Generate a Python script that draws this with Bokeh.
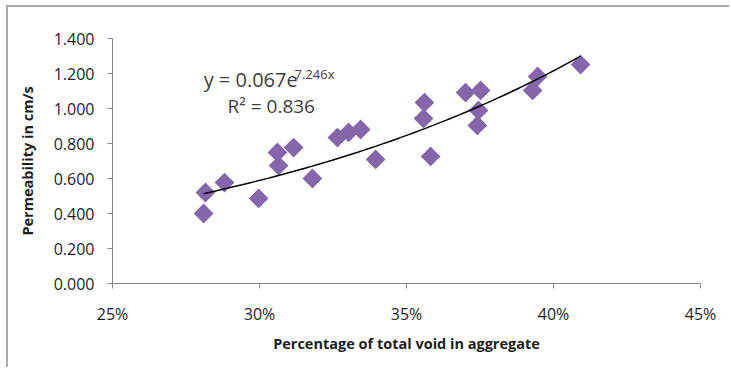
import numpy as np
from bokeh.plotting import figure
from bokeh.models import Range1d, FixedTicker, NumeralTickFormatter, Label, ColumnDataSource
from bokeh.embed import file_html
from bokeh.resources import INLINE

# ---- data ----
void_frac = [0.2810, 0.2816, 0.2881, 0.2997, 0.3061, 0.3065, 0.3116, 0.3180,
             0.3265, 0.3303, 0.3344, 0.3395, 0.3561, 0.3558, 0.3582, 0.3701,
             0.3752, 0.3745, 0.3741, 0.3946, 0.3929, 0.4092]
permeability = [0.400, 0.520, 0.577, 0.486, 0.749, 0.674, 0.777, 0.600,
                0.834, 0.863, 0.880, 0.709, 1.034, 0.943, 0.726, 1.091,
                1.103, 0.989, 0.903, 1.183, 1.103, 1.251]
x_ticks = [0.25, 0.30, 0.35, 0.40, 0.45]
y_ticks = [0.0, 0.2, 0.4, 0.6, 0.8, 1.0, 1.2, 1.4]
trend_a = 0.067
trend_b = 7.246
eq_text = "y = 0.067e"
eq_exp = "7.246x"
r2_text = "R\u00b2 = 0.836"
x_title = "Percentage of total void in aggregate"
y_title = "Permeability in cm/s"

FONT = "Open Sans"
MARK = "#8467aa"
AX = "#868686"
TXT = "#1e1e1e"

p = figure(width=723, height=362, output_backend="svg", toolbar_location=None,
           x_range=Range1d(0.25, 0.45), y_range=Range1d(0.0, 1.4),
           min_border_left=104, min_border_right=31, min_border_top=31,
           min_border_bottom=86)
p.styles = {"margin-left": "6px", "margin-top": "5px",
            "border-top": "2px solid #ababab", "border-left": "2px solid #ababab"}
p.outline_line_color = None
p.background_fill_color = "white"
p.border_fill_color = "white"
p.xgrid.grid_line_color = None
p.ygrid.grid_line_color = None

src = ColumnDataSource(dict(x=void_frac, y=permeability))
p.scatter("x", "y", source=src, marker="square", size=14, angle=np.pi / 4,
          fill_color=MARK, line_color=None)

tx = np.linspace(min(void_frac), max(void_frac), 60)
ty = trend_a * np.exp(trend_b * tx)
p.line(tx, ty, line_color="black", line_width=1.5)

for ax in (p.xaxis[0], p.yaxis[0]):
    ax.axis_line_color = AX
    ax.major_tick_line_color = AX
    ax.minor_tick_line_color = None
    ax.major_tick_in = 0
    ax.major_tick_out = 5
    ax.major_label_text_font = FONT
    ax.major_label_text_font_size = "16px"
    ax.major_label_text_color = TXT
    ax.axis_label_text_font = FONT
    ax.axis_label_text_font_size = "14.5px"
    ax.axis_label_text_font_style = "bold"
    ax.axis_label_text_color = TXT

p.xaxis.ticker = FixedTicker(ticks=x_ticks)
p.yaxis.ticker = FixedTicker(ticks=y_ticks)
p.xaxis.formatter = NumeralTickFormatter(format="0%")
p.yaxis.formatter = NumeralTickFormatter(format="0.000")
p.xaxis.axis_label = x_title
p.yaxis.axis_label = y_title
p.xaxis.major_label_standoff = 14
p.yaxis.major_label_standoff = 13
p.xaxis.axis_label_standoff = 6
p.yaxis.axis_label_standoff = 14

p.add_layout(Label(x=0.2810, y=1.165, text=eq_text, text_font=FONT,
                   text_font_size="20px", text_color="#404040",
                   text_baseline="alphabetic"))
p.add_layout(Label(x=0.3119, y=1.200, text=eq_exp, text_font=FONT,
                   text_font_size="13px", text_color="#404040",
                   text_baseline="alphabetic"))
p.add_layout(Label(x=0.2891, y=1.015, text=r2_text, text_font=FONT,
                   text_font_size="19px", text_color="#404040",
                   text_baseline="alphabetic"))

open("out.html", "w").write(file_html(p, INLINE))
